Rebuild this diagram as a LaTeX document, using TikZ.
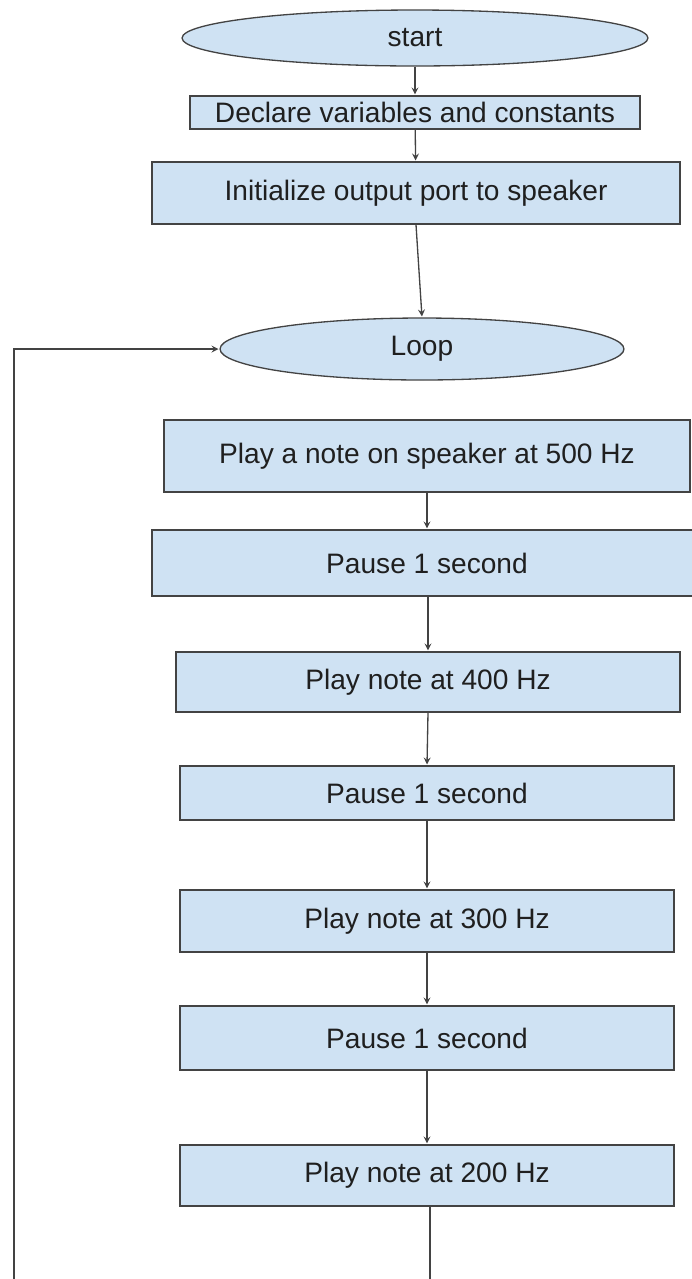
\documentclass[tikz,border=0pt]{standalone}
\usepackage{fontspec}
\setmainfont{Liberation Sans}
\usetikzlibrary{shapes.geometric}
\definecolor{boxblue}{HTML}{CFE2F3}
\definecolor{edge}{HTML}{434343}

\begin{document}
\begin{tikzpicture}[x=0.02cm, y=-0.02cm, >=stealth, line width=0.75pt,
  every node/.style={font=\fontsize{16}{18}\selectfont, text=black!88, inner sep=0pt},
  term/.style={draw=edge, fill=boxblue, ellipse},
  stepbox/.style={draw=edge, fill=boxblue, rectangle},
  flow/.style={draw=edge, ->, shorten >=0.5pt}]
  \useasboundingbox (0,0) rectangle (692,1279);
  \node[term, minimum width=9.32cm, minimum height=1.12cm] (start) at (415,38) {start};
  \node[stepbox, minimum width=9.0cm, minimum height=0.66cm] (declare) at (415,112.5) {Declare variables and constants};
  \node[stepbox, minimum width=10.56cm, minimum height=1.24cm] (init) at (416,193) {Initialize output port to speaker};
  \node[term, minimum width=8.08cm, minimum height=1.24cm] (loop) at (422,349) {Loop};
  \node[stepbox, minimum width=10.52cm, minimum height=1.44cm] (play500) at (427,456) {Play a note on speaker at 500 Hz};
  \node[stepbox, minimum width=11.0cm, minimum height=1.32cm] (pause1) at (427,563) {Pause 1 second};
  \node[stepbox, minimum width=10.08cm, minimum height=1.2cm] (play400) at (428,682) {Play note at 400 Hz};
  \node[stepbox, minimum width=9.88cm, minimum height=1.08cm] (pause2) at (427,793) {Pause 1 second};
  \node[stepbox, minimum width=9.88cm, minimum height=1.24cm] (play300) at (427,921) {Play note at 300 Hz};
  \node[stepbox, minimum width=9.88cm, minimum height=1.28cm] (pause3) at (427,1038) {Pause 1 second};
  \node[stepbox, minimum width=9.88cm, minimum height=1.22cm] (play200) at (427,1175.5) {Play note at 200 Hz};
  \coordinate (down) at (430,1290);
  \coordinate (back) at (14,1290);
  \draw[flow] (start) -- (declare);
  \draw[flow] (declare) -- (init);
  \draw[flow] (init.south) -- (loop.north);
  \draw[flow] (play500) -- (pause1);
  \draw[flow] (pause1.south -| play400.north) -- (play400.north);
  \draw[flow] (play400.south) -- (pause2.north);
  \draw[flow] (pause2) -- (play300);
  \draw[flow] (play300) -- (pause3);
  \draw[flow] (pause3) -- (play200);
  \draw[edge] (play200.south -| down) -- (down);
  \draw[flow] (back) |- (loop.west);
\end{tikzpicture}
\end{document}
